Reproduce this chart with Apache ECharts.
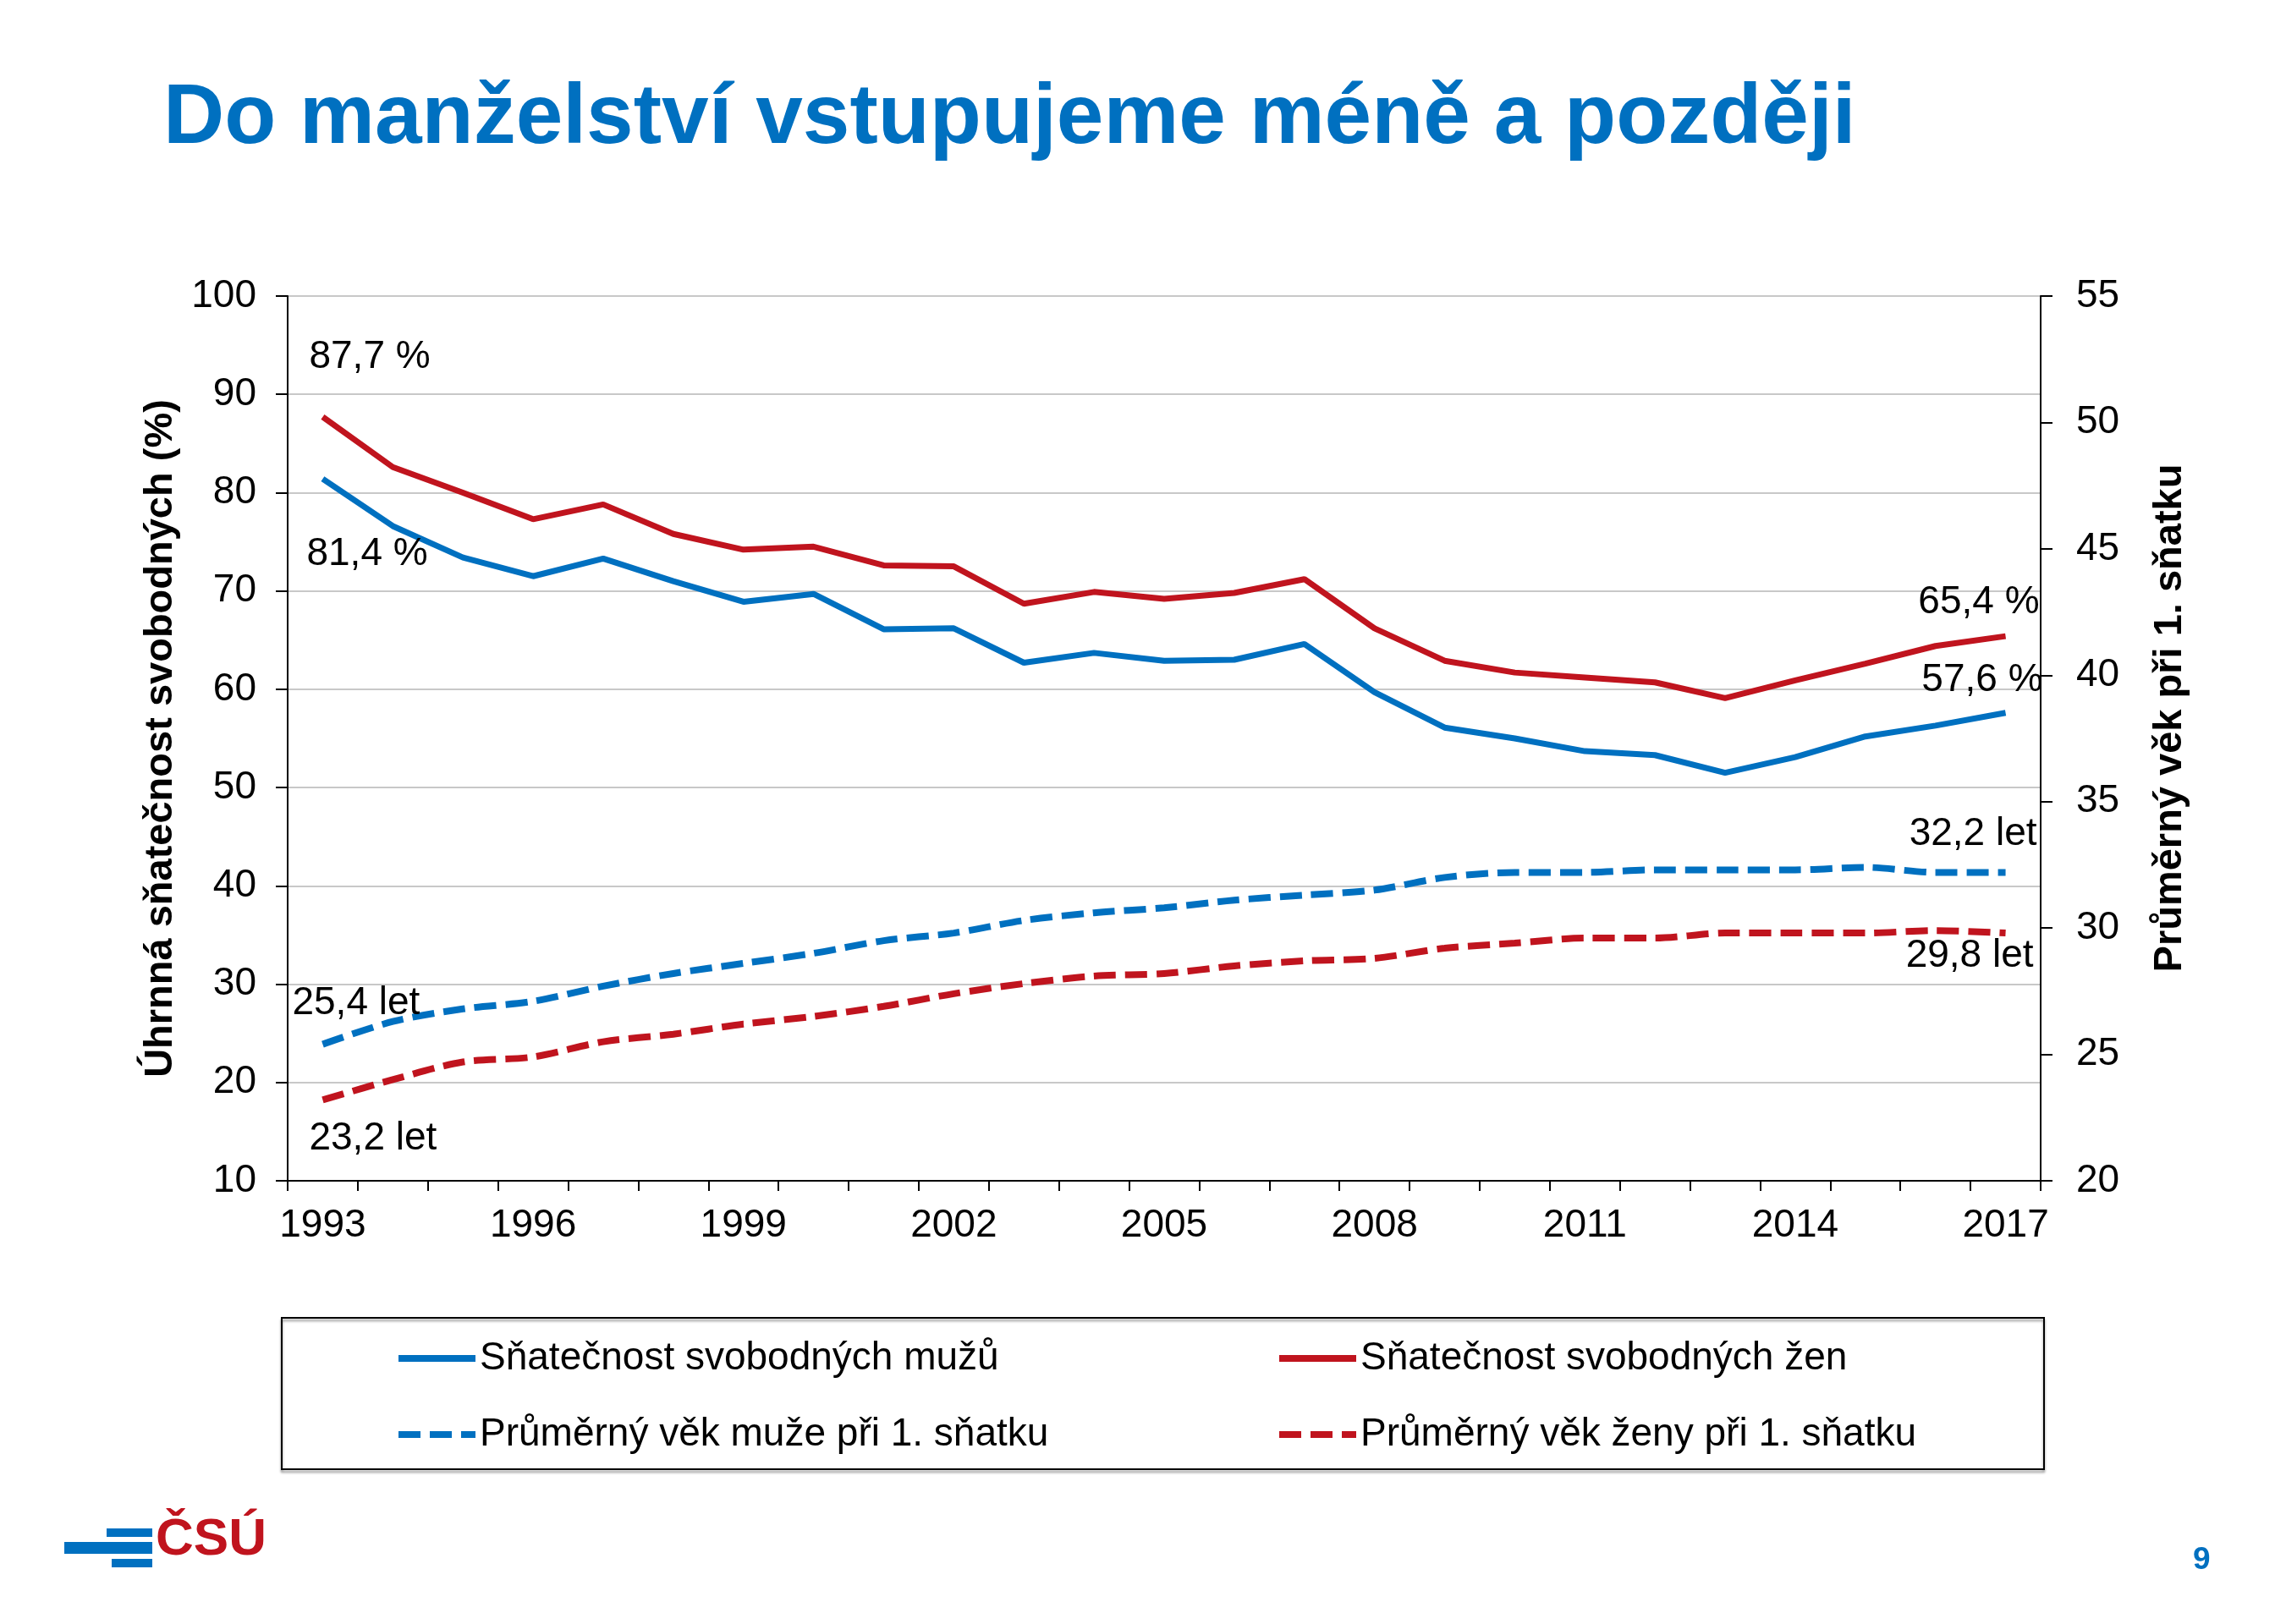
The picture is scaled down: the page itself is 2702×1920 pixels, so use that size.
<!DOCTYPE html>
<html>
<head>
<meta charset="utf-8">
<title>Do manželství vstupujeme méně a později</title>
<script src="https://cdn.jsdelivr.net/npm/echarts@6/dist/echarts.min.js"></script>
<style>
  html, body { margin: 0; padding: 0; background: #fff; }
  #chart { width: 2702px; height: 1920px; }
</style>
</head>
<body>
<div id="chart"></div>
<script>
// roky
var years = ['1993', '1994', '1995', '1996', '1997', '1998', '1999', '2000', '2001', '2002',
  '2003', '2004', '2005', '2006', '2007', '2008', '2009', '2010', '2011', '2012',
  '2013', '2014', '2015', '2016', '2017']
// úhrnná sňatečnost svobodných (%)
var menRate = [81.4, 76.6, 73.4, 71.5, 73.3, 71.0, 68.9, 69.7, 66.1, 66.2,
  62.7, 63.7, 62.9, 63.0, 64.6, 59.7, 56.1, 55.0, 53.7, 53.3,
  51.5, 53.1, 55.2, 56.3, 57.6]
var womenRate = [87.7, 82.6, 80.0, 77.3, 78.8, 75.8, 74.2, 74.5, 72.6, 72.5,
  68.7, 69.9, 69.2, 69.8, 71.2, 66.2, 62.9, 61.7, 61.2, 60.7,
  59.1, 60.9, 62.6, 64.4, 65.4]
// průměrný věk při 1. sňatku
var menAge = [25.4, 26.3, 26.8, 27.1, 27.7, 28.2, 28.6, 29.0, 29.5, 29.8,
  30.3, 30.6, 30.8, 31.1, 31.3, 31.5, 32.0, 32.2, 32.2, 32.3,
  32.3, 32.3, 32.4, 32.2, 32.2]
var womenAge = [23.2, 24.0, 24.7, 24.9, 25.5, 25.8, 26.2, 26.5, 26.9, 27.4,
  27.8, 28.1, 28.2, 28.5, 28.7, 28.8, 29.2, 29.4, 29.6, 29.6,
  29.8, 29.8, 29.8, 29.9, 29.8]

var BLUE = '#0070C0'
var RED = '#C0141E'
var FONT = 'Liberation Sans, Arial, sans-serif'
var last = years.length - 1

function czNum (v) {
  return v.toFixed(1).replace('.', ',')
}

// popisek u prvního / posledního bodu
function note (i, arr, align, dx, dy) {
  return {
    coord: [years[i], arr[i]],
    value: arr[i],
    label: { align: align, offset: [dx, dy] }
  }
}

function marks (unit, data) {
  return {
    symbol: 'circle',
    symbolSize: 0,
    silent: true,
    label: {
      show: true,
      position: 'inside',
      verticalAlign: 'middle',
      color: '#000',
      fontSize: 46,
      fontFamily: FONT,
      formatter: function (p) { return czNum(p.value) + unit }
    },
    data: data
  }
}

var legendBase = {
  orient: 'vertical',
  top: 1578,
  itemWidth: 91,
  itemHeight: 6,
  itemGap: 44,
  itemStyle: { opacity: 0 },
  lineStyle: { width: 8 },
  textStyle: { color: '#000', fontSize: 46, fontFamily: FONT }
}

var myChart = echarts.init(document.getElementById('chart'))
myChart.setOption({
  animation: false,
  backgroundColor: '#fff',
  title: {
    text: 'Do manželství vstupujeme méně a později',
    left: 188,
    top: 86,
    textStyle: { color: BLUE, fontSize: 100, fontWeight: 'bold', fontFamily: FONT }
  },
  grid: {
    left: 340,
    right: 290,
    top: 350,
    bottom: 524,
    show: true,
    borderColor: '#000',
    borderWidth: 2,
    backgroundColor: 'transparent'
  },
  legend: [
    Object.assign({}, legendBase, {
      left: 462,
      data: ['Sňatečnost svobodných mužů', 'Průměrný věk muže při 1. sňatku']
    }),
    Object.assign({}, legendBase, {
      left: 1503,
      data: ['Sňatečnost svobodných žen', 'Průměrný věk ženy při 1. sňatku']
    })
  ],
  xAxis: {
    type: 'category',
    data: years,
    boundaryGap: true,
    axisLine: { lineStyle: { color: '#000', width: 2 } },
    axisTick: { show: true, interval: 0, length: 12, lineStyle: { color: '#000', width: 2 } },
    axisLabel: { interval: 2, margin: 30, color: '#000', fontSize: 46, fontFamily: FONT }
  },
  yAxis: [
    {
      type: 'value',
      min: 10,
      max: 100,
      interval: 10,
      name: 'Úhrnná sňatečnost svobodných (%)',
      nameLocation: 'middle',
      nameRotate: 90,
      nameGap: 126,
      nameTextStyle: { color: '#000', fontSize: 47, fontWeight: 'bold', fontFamily: FONT },
      axisLine: { show: true, lineStyle: { color: '#000', width: 2 } },
      axisTick: { show: true, length: 14, lineStyle: { color: '#000', width: 2 } },
      axisLabel: { margin: 37, color: '#000', fontSize: 46, fontFamily: FONT },
      splitLine: { show: true, lineStyle: { color: '#c8c8c8', width: 2 } }
    },
    {
      type: 'value',
      min: 20,
      max: 55,
      interval: 5,
      position: 'right',
      name: 'Průměrný věk při 1. sňatku',
      nameLocation: 'middle',
      nameRotate: 90,
      nameGap: 130,
      nameTextStyle: { color: '#000', fontSize: 47, fontWeight: 'bold', fontFamily: FONT, padding: [0, 0, 0, 48] },
      axisLine: { show: true, lineStyle: { color: '#000', width: 2 } },
      axisTick: { show: true, length: 14, lineStyle: { color: '#000', width: 2 } },
      axisLabel: { margin: 42, color: '#000', fontSize: 46, fontFamily: FONT },
      splitLine: { show: false }
    }
  ],
  series: [
    {
      name: 'Sňatečnost svobodných mužů',
      type: 'line',
      yAxisIndex: 0,
      data: menRate,
      symbol: 'none',
      color: BLUE,
      lineStyle: { color: BLUE, width: 7 },
      markPoint: marks(' %', [
        note(0, menRate, 'left', -19, 89),
        note(last, menRate, 'right', 44, -38)
      ])
    },
    {
      name: 'Sňatečnost svobodných žen',
      type: 'line',
      yAxisIndex: 0,
      data: womenRate,
      symbol: 'none',
      color: RED,
      lineStyle: { color: RED, width: 7 },
      markPoint: marks(' %', [
        note(0, womenRate, 'left', -16, -71),
        note(last, womenRate, 'right', 40, -40)
      ])
    },
    {
      name: 'Průměrný věk muže při 1. sňatku',
      type: 'line',
      yAxisIndex: 1,
      data: menAge,
      symbol: 'none',
      smooth: 0.3,
      color: BLUE,
      lineStyle: { color: BLUE, width: 8, type: [26, 11] },
      markPoint: marks(' let', [
        note(0, menAge, 'left', -36, -48),
        note(last, menAge, 'right', 37, -45)
      ])
    },
    {
      name: 'Průměrný věk ženy při 1. sňatku',
      type: 'line',
      yAxisIndex: 1,
      data: womenAge,
      symbol: 'none',
      smooth: 0.3,
      color: RED,
      lineStyle: { color: RED, width: 8, type: [26, 11] },
      markPoint: marks(' let', [
        note(0, womenAge, 'left', -16, 46),
        note(last, womenAge, 'right', 33, 27)
      ])
    }
  ],
  graphic: [
    // rámeček legendy
    {
      type: 'rect',
      shape: { x: 333, y: 1558, width: 2083, height: 179 },
      style: { fill: 'none', stroke: '#000', lineWidth: 2, shadowBlur: 3, shadowOffsetY: 3, shadowColor: 'rgba(0,0,0,0.45)' },
      silent: true
    },
    // logo ČSÚ
    { type: 'rect', shape: { x: 126, y: 1807, width: 54, height: 10 }, style: { fill: BLUE }, silent: true },
    { type: 'rect', shape: { x: 76, y: 1823, width: 104, height: 14 }, style: { fill: BLUE }, silent: true },
    { type: 'rect', shape: { x: 132, y: 1843, width: 48, height: 10 }, style: { fill: BLUE }, silent: true },
    {
      type: 'text',
      left: 184,
      top: 1790,
      style: { text: 'ČSÚ', fill: RED, font: 'bold 62px Liberation Sans, Arial, sans-serif' },
      silent: true
    },
    // číslo strany
    {
      type: 'text',
      left: 2592,
      top: 1826,
      style: { text: '9', fill: BLUE, font: 'bold 37px Liberation Sans, Arial, sans-serif' },
      silent: true
    }
  ]
})
</script>
</body>
</html>
